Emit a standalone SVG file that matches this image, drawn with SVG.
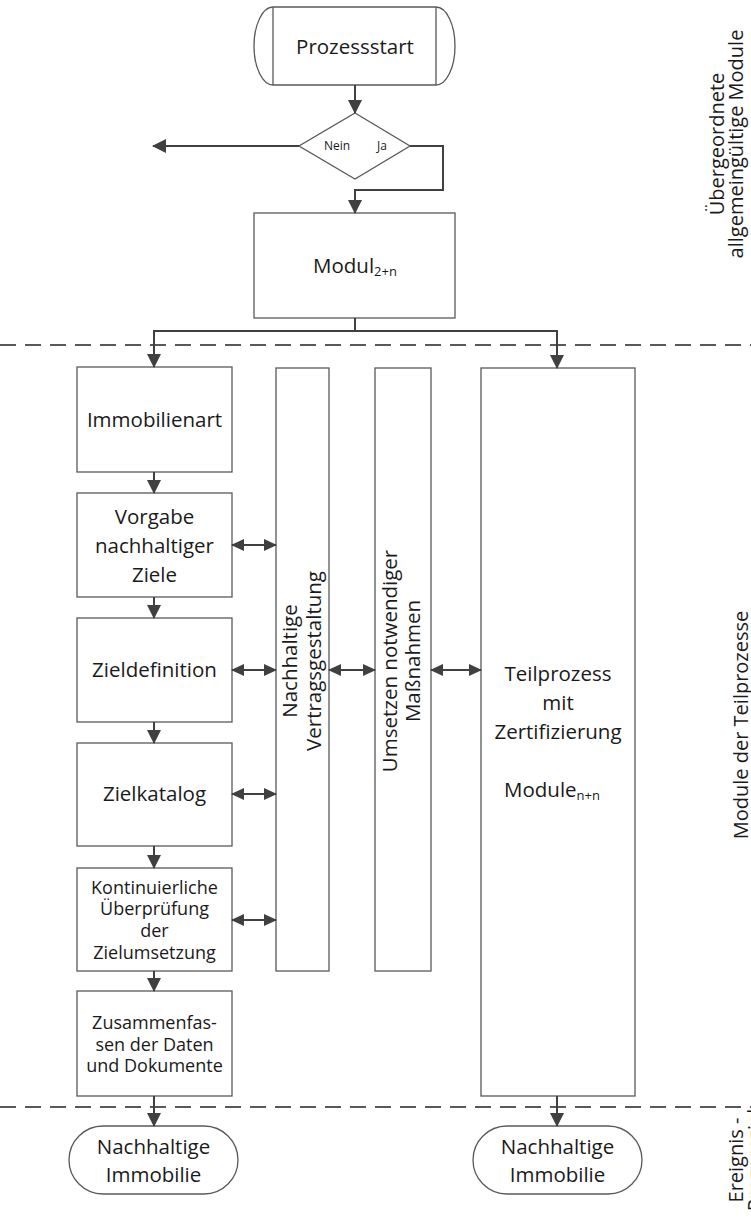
<svg xmlns="http://www.w3.org/2000/svg" width="751" height="1218" viewBox="0 0 751 1218">
  <defs>
    <style>
      .box { fill: #ffffff; stroke: #595959; stroke-width: 1.3; }
      .conn { fill: none; stroke: #404040; stroke-width: 2; }
      .dash { fill: none; stroke: #595959; stroke-width: 2; stroke-dasharray: 16 9; }
      text { font-family: "Open Sans", "Noto Sans", sans-serif; fill: #1a1a1a; }
      .t { font-size: 20.5px; text-anchor: middle; }
      .s { font-size: 18px; text-anchor: middle; }
      .lbl { font-size: 20px; text-anchor: middle; }
      .small { font-size: 12px; text-anchor: middle; }
    </style>
    <marker id="arrow" viewBox="0 0 14 14" refX="13" refY="7" markerWidth="14" markerHeight="14" markerUnits="userSpaceOnUse" orient="auto">
      <path d="M0,0 L14,7 L0,14 z" fill="#404040"/>
    </marker>
    <marker id="arrowSm" viewBox="0 0 13 12" refX="12" refY="6" markerWidth="13" markerHeight="12" markerUnits="userSpaceOnUse" orient="auto-start-reverse">
      <path d="M0,0 L13,6 L0,12 z" fill="#404040"/>
    </marker>
  </defs>

  <!-- swimlane separators -->
  <line class="dash" x1="0" y1="345" x2="751" y2="345"/>
  <line class="dash" x1="0" y1="1107" x2="751" y2="1107"/>

  <!-- lane labels -->
  <text class="lbl" transform="translate(0,144) rotate(-90)"><tspan x="0" y="724">Übergeordnete</tspan><tspan x="0" y="743">allgemeingültige Module</tspan></text>
  <text class="lbl" transform="translate(0,725) rotate(-90)"><tspan x="0" y="748">Module der Teilprozesse</tspan></text>
  <text class="lbl" transform="translate(0,1160) rotate(-90)"><tspan x="0" y="743">Ereignis -</tspan><tspan x="0" y="762">Prozessziel</tspan></text>

  <g id="start">
    <path class="box" d="M273,7 L436,7 A19,39 0 0 1 436,85 L273,85 A19,39 0 0 1 273,7 z"/>
    <line x1="273" y1="7" x2="273" y2="85" stroke="#595959" stroke-width="1.3"/>
    <line x1="436" y1="7" x2="436" y2="85" stroke="#595959" stroke-width="1.3"/>
    <text class="t" x="355" y="54">Prozessstart</text>
  </g>

  <g id="decision">
    <path class="box" d="M355,113 L410,146 L355,179 L299,146 z"/>
    <text class="small" x="337" y="150">Nein</text>
    <text class="small" x="382" y="150">Ja</text>
  </g>

  <g id="modul">
    <rect class="box" x="254" y="213" width="201" height="105"/>
    <text class="t" x="355" y="273">Modul<tspan font-size="13px" dy="3">2+n</tspan></text>
  </g>

  <g id="immobilienart">
    <rect class="box" x="77" y="367" width="155" height="105"/>
    <text class="t" x="154.5" y="427">Immobilienart</text>
  </g>

  <g id="vorgabe">
    <rect class="box" x="77" y="493" width="155" height="104"/>
    <text class="t"><tspan x="154.5" y="524">Vorgabe</tspan><tspan x="154.5" y="553">nachhaltiger</tspan><tspan x="154.5" y="582">Ziele</tspan></text>
  </g>

  <g id="zieldefinition">
    <rect class="box" x="77" y="618" width="155" height="104"/>
    <text class="t" x="154.5" y="677">Zieldefinition</text>
  </g>

  <g id="zielkatalog">
    <rect class="box" x="77" y="743" width="155" height="103"/>
    <text class="t" x="154.5" y="801">Zielkatalog</text>
  </g>

  <g id="ueberpruefung">
    <rect class="box" x="77" y="868" width="155" height="103"/>
    <text class="s"><tspan x="154.5" y="893.5">Kontinuierliche</tspan><tspan x="154.5" y="915.2">Überprüfung</tspan><tspan x="154.5" y="937">der</tspan><tspan x="154.5" y="958.7">Zielumsetzung</tspan></text>
  </g>

  <g id="zusammenfassen">
    <rect class="box" x="77" y="991" width="155" height="105"/>
    <text class="s"><tspan x="154.5" y="1029">Zusammenfas-</tspan><tspan x="154.5" y="1050.5">sen der Daten</tspan><tspan x="154.5" y="1072">und Dokumente</tspan></text>
  </g>

  <g id="vertragsgestaltung">
    <rect class="box" x="276" y="368" width="53" height="603"/>
    <text class="t" transform="translate(0,661) rotate(-90)"><tspan x="0" y="297">Nachhaltige</tspan><tspan x="0" y="321">Vertragsgestaltung</tspan></text>
  </g>

  <g id="massnahmen">
    <rect class="box" x="375" y="368" width="56" height="603"/>
    <text class="t" transform="translate(0,661) rotate(-90)"><tspan x="0" y="397">Umsetzen notwendiger</tspan><tspan x="0" y="420">Maßnahmen</tspan></text>
  </g>

  <g id="teilprozess">
    <rect class="box" x="481" y="368" width="154" height="728"/>
    <text class="t"><tspan x="558" y="681">Teilprozess</tspan><tspan x="558" y="710">mit</tspan><tspan x="558" y="739">Zertifizierung</tspan><tspan x="552" y="797">Module</tspan><tspan font-size="13px" dy="3">n+n</tspan></text>
  </g>

  <g id="ziel-links">
    <rect class="box" x="69" y="1126" width="169" height="68" rx="34" ry="34"/>
    <text class="t"><tspan x="153.5" y="1154">Nachhaltige</tspan><tspan x="153.5" y="1182">Immobilie</tspan></text>
  </g>

  <g id="ziel-rechts">
    <rect class="box" x="473" y="1126" width="169" height="68" rx="34" ry="34"/>
    <text class="t"><tspan x="557.5" y="1154">Nachhaltige</tspan><tspan x="557.5" y="1182">Immobilie</tspan></text>
  </g>

  <g id="connectors">
    <line class="conn" x1="355" y1="85" x2="355" y2="113" marker-end="url(#arrow)"/>
    <line class="conn" x1="299" y1="146" x2="153" y2="146" marker-end="url(#arrow)"/>
    <polyline class="conn" points="410,146 443,146 443,190 355,190 355,213" marker-end="url(#arrow)"/>
    <polyline class="conn" points="355,318 355,331 154,331 154,367" marker-end="url(#arrow)"/>
    <polyline class="conn" points="355,331 557,331 557,368" marker-end="url(#arrow)"/>

    <line class="conn" x1="154" y1="472" x2="154" y2="493" marker-end="url(#arrow)"/>
    <line class="conn" x1="154" y1="597" x2="154" y2="618" marker-end="url(#arrow)"/>
    <line class="conn" x1="154" y1="722" x2="154" y2="743" marker-end="url(#arrow)"/>
    <line class="conn" x1="154" y1="846" x2="154" y2="868" marker-end="url(#arrow)"/>
    <line class="conn" x1="154" y1="971" x2="154" y2="991" marker-end="url(#arrow)"/>
    <line class="conn" x1="154" y1="1096" x2="154" y2="1126" marker-end="url(#arrow)"/>
    <line class="conn" x1="557" y1="1096" x2="557" y2="1126" marker-end="url(#arrow)"/>

    <line class="conn" x1="232" y1="545" x2="276" y2="545" marker-start="url(#arrowSm)" marker-end="url(#arrowSm)"/>
    <line class="conn" x1="232" y1="670" x2="276" y2="670" marker-start="url(#arrowSm)" marker-end="url(#arrowSm)"/>
    <line class="conn" x1="232" y1="794" x2="276" y2="794" marker-start="url(#arrowSm)" marker-end="url(#arrowSm)"/>
    <line class="conn" x1="232" y1="920" x2="276" y2="920" marker-start="url(#arrowSm)" marker-end="url(#arrowSm)"/>
    <line class="conn" x1="329" y1="670" x2="375" y2="670" marker-start="url(#arrowSm)" marker-end="url(#arrowSm)"/>
    <line class="conn" x1="431" y1="670" x2="481" y2="670" marker-start="url(#arrowSm)" marker-end="url(#arrowSm)"/>
  </g>
</svg>
